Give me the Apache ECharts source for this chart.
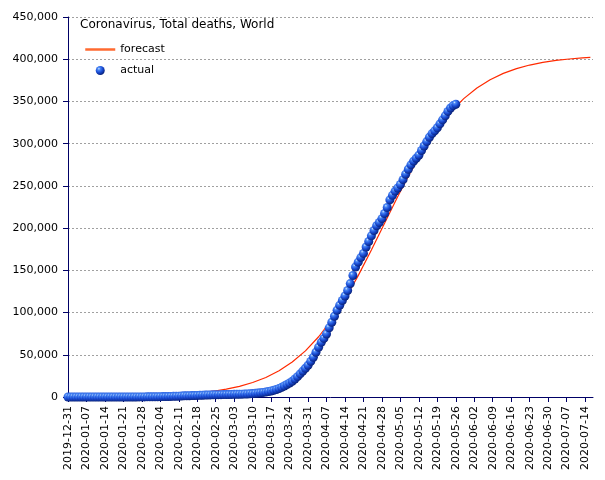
<!DOCTYPE html>
<html>
<head>
<meta charset="utf-8">
<script src="https://cdn.jsdelivr.net/npm/echarts@6/dist/echarts.min.js"></script>
<style>html,body{margin:0;padding:0;background:#fff}#c{width:605px;height:480px}</style>
</head>
<body>
<div id="c"></div>
<script>
// x axis: daily categories from start date, labelled weekly
const startDate = '2019-12-31';
const dayCount = 200;

// actual cumulative deaths, one value per day from 2019-12-31 to 2020-05-26
const actualValues = [
  0,0,0,0,0,0,0,0,0,0,0,
  1,1,1,1,1,2,2,2,2,3,6,9,17,25,41,56,80,106,132,170,213,
  259,304,362,426,492,565,638,724,813,910,1018,1115,1369,1384,1526,1669,1775,1873,2009,2126,2247,2360,2462,2618,2699,2763,2800,2858,2923,
  2977,3050,3117,3202,3285,3385,3494,3598,3827,4012,4293,4615,4983,5414,5836,6473,7166,7954,8830,10019,11416,13059,14744,16515,18629,21279,24070,27306,30719,33981,37546,
  42139,46963,53053,58851,64728,69395,74655,81938,88495,95670,102741,108627,114274,119649,126100,134340,143867,153955,159687,165112,170046,177644,184211,190866,197200,202822,206625,211231,217369,224418,
  233418,238831,243808,247526,251664,257391,263831,269645,274926,279321,282796,286347,291949,297249,302418,307604,311963,315171,318789,323447,328115,332924,338213,342214,345059,346708
];

// forecast
const forecastDates = [
  '2019-12-31','2020-01-05','2020-01-10','2020-01-15','2020-01-20','2020-01-25','2020-01-30',
  '2020-02-04','2020-02-09','2020-02-14','2020-02-19','2020-02-24','2020-02-29',
  '2020-03-05','2020-03-10','2020-03-15','2020-03-20','2020-03-25','2020-03-30',
  '2020-04-04','2020-04-09','2020-04-14','2020-04-19','2020-04-24','2020-04-29',
  '2020-05-04','2020-05-09','2020-05-14','2020-05-19','2020-05-24','2020-05-29',
  '2020-06-03','2020-06-08','2020-06-13','2020-06-18','2020-06-23','2020-06-28',
  '2020-07-03','2020-07-08','2020-07-13','2020-07-16'
];
const forecastValues = [
  218,298,409,559,766,1049,1436,
  1966,2689,3676,5019,6847,9324,
  12667,17162,23150,31071,41390,54657,
  71338,91776,116031,143727,174087,205779,
  237334,267227,294286,317757,337400,353322,
  365955,375742,383227,388873,393105,396248,
  398577,400294,401553,402200
];

const yTicks = {min: 0, max: 450000, step: 50000};

const categories = [];
{
  const t0 = Date.parse(startDate + 'T00:00:00Z');
  for (let i = 0; i < dayCount; i++) {
    categories.push(new Date(t0 + i * 86400000).toISOString().slice(0, 10));
  }
}
const actualData = actualValues.map((v, i) => [categories[i], v]);
const forecastData = forecastDates.map((d, i) => [d, forecastValues[i]]);

const FONT = 'DejaVu Sans';
const axisColor = '#000066';
const sphere = {
  type: 'radial', x: 0.35, y: 0.3, r: 0.75,
  colorStops: [
    {offset: 0, color: '#cfe4ff'},
    {offset: 0.2, color: '#4a88f5'},
    {offset: 0.55, color: '#1a4cd4'},
    {offset: 1, color: '#061c70'}
  ]
};

const chart = echarts.init(document.getElementById('c'), null, {renderer: 'canvas'});
chart.setOption({
  animation: false,
  backgroundColor: '#ffffff',
  title: {
    text: 'Coronavirus, Total deaths, World',
    left: 80, top: 19, padding: 0,
    textStyle: {fontFamily: FONT, fontSize: 12, fontWeight: 'normal', color: '#000'}
  },
  legend: {
    orient: 'vertical', left: 84, top: 44, padding: 0,
    itemWidth: 30, itemHeight: 9, itemGap: 10,
    textStyle: {fontFamily: FONT, fontSize: 11, color: '#000'},
    data: [
      {name: 'forecast', lineStyle: {color: '#ff6a30', width: 2.5}, itemStyle: {opacity: 0}},
      {name: 'actual', icon: 'circle'}
    ]
  },
  grid: {left: 68, right: 12, top: 17, bottom: 83, containLabel: false, outerBoundsMode: 'none'},
  xAxis: {
    type: 'category',
    data: categories,
    boundaryGap: false,
    axisLine: {lineStyle: {color: axisColor, width: 1}},
    axisTick: {show: true, interval: 6, length: 5, lineStyle: {color: axisColor}},
    axisLabel: {interval: 6, rotate: 90, margin: 9, fontFamily: FONT, fontSize: 11, color: '#000'},
    splitLine: {show: false}
  },
  yAxis: {
    type: 'value',
    min: yTicks.min, max: yTicks.max, interval: yTicks.step,
    axisLine: {show: true, lineStyle: {color: axisColor, width: 1}},
    axisTick: {show: true, length: 5, lineStyle: {color: axisColor}},
    axisLabel: {margin: 10, fontFamily: FONT, fontSize: 11, color: '#000',
      formatter: v => v.toLocaleString('en-US')},
    splitLine: {show: true, lineStyle: {color: '#a0a0a0', type: [2, 2], width: 1}}
  },
  series: [
    {
      name: 'forecast', type: 'line', data: forecastData,
      symbol: 'none', showSymbol: false, z: 2,
      lineStyle: {color: '#ff2a00', width: 1.2},
      itemStyle: {color: '#ff2a00'}
    },
    {
      name: 'actual', type: 'scatter', data: actualData,
      symbol: 'circle', symbolSize: 9, clip: false, z: 3,
      itemStyle: {color: sphere, opacity: 1}
    }
  ]
});
</script>
</body>
</html>
